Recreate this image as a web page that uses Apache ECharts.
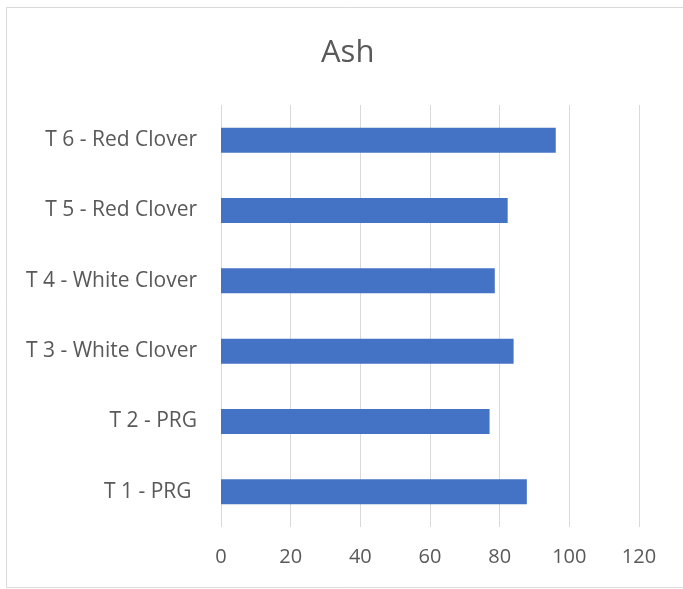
<!DOCTYPE html>
<html>
<head>
<meta charset="utf-8">
<script src="https://cdn.jsdelivr.net/npm/echarts@6/dist/echarts.min.js"></script>
<style>
  html, body { margin: 0; padding: 0; background: #fff; }
  #chart { width: 683px; height: 589px; }
</style>
</head>
<body>
<div id="chart"></div>
<script>
// Ash content per treatment (bottom-to-top order on the category axis)
const categories = ['T 1 - PRG ', 'T 2 - PRG', 'T 3 - White Clover', 'T 4 - White Clover', 'T 5 - Red Clover', 'T 6 - Red Clover'];
const ashValues = [87.8, 77.1, 84.0, 78.6, 82.3, 96.1];
const xTicks = [0, 20, 40, 60, 80, 100, 120];

const FONT = '"Open Sans", "Liberation Sans", sans-serif';

const chart = echarts.init(document.getElementById('chart'), null, { renderer: 'canvas' });
chart.setOption({
  animation: false,
  backgroundColor: '#ffffff',
  title: {
    text: 'Ash',
    left: 316,
    top: 33,
    textStyle: { fontFamily: FONT, fontSize: 31, fontWeight: 'normal', color: '#595959' }
  },
  graphic: [{
    type: 'rect',
    shape: { x: 6.5, y: 7.5, width: 690, height: 580 },
    style: { fill: 'none', stroke: '#d9d9d9', lineWidth: 1 },
    silent: true
  }],
  grid: { left: 221, right: 44, top: 105, bottom: 62, containLabel: false },
  xAxis: {
    type: 'value',
    min: xTicks[0],
    max: xTicks[xTicks.length - 1],
    interval: 20,
    axisLine: { show: false },
    axisTick: { show: false },
    splitLine: { lineStyle: { color: '#d9d9d9', width: 1 } },
    axisLabel: { fontFamily: FONT, fontSize: 20, color: '#595959', margin: 20 }
  },
  yAxis: {
    type: 'category',
    data: categories,
    axisLine: { show: false },
    axisTick: { show: false },
    axisLabel: { fontFamily: FONT, fontSize: 21, color: '#595959', margin: 24, padding: [4, 0, 0, 0] }
  },
  series: [{
    type: 'bar',
    data: ashValues,
    barWidth: 25,
    itemStyle: { color: '#4472c4' }
  }]
});
</script>
</body>
</html>
